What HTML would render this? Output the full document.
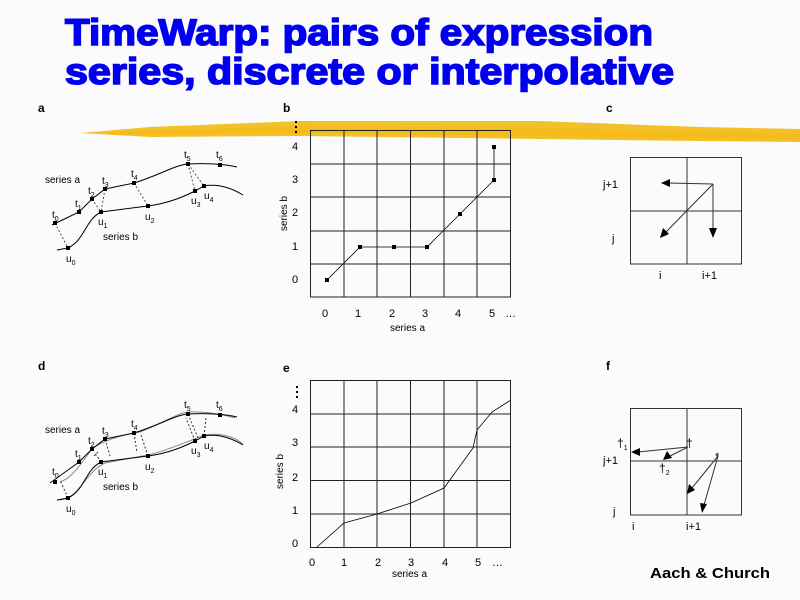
<!DOCTYPE html>
<html><head><meta charset="utf-8"><style>
html,body{margin:0;padding:0;background:#fbfbfb;}
svg{display:block;}
text{font-family:"Liberation Sans",Arial,sans-serif;}
</style></head><body>
<svg width="800" height="600" viewBox="0 0 800 600" xmlns="http://www.w3.org/2000/svg">
<rect width="800" height="600" fill="#fbfbfb"/>
<!-- brush -->
<polygon points="80,133 150,127 300,121 540,121 700,127 800,129 800,142 700,141 540,139 300,136 150,137" fill="#f2c12a"/>
<polygon points="110,132 300,126 540,128 800,134 800,139 540,136 300,133 110,135" fill="#f5b815" opacity="0.7"/>
<!-- title -->
<text x="65" y="45" font-size="37" font-weight="bold" fill="#0000ee" stroke="#0000ee" stroke-width="1.6" textLength="588" lengthAdjust="spacingAndGlyphs">TimeWarp: pairs of expression</text>
<text x="65" y="84" font-size="37" font-weight="bold" fill="#0000ee" stroke="#0000ee" stroke-width="1.6" textLength="609" lengthAdjust="spacingAndGlyphs">series, discrete or interpolative</text>
<g font-size="12" font-weight="bold" fill="#000">
<text x="38" y="112">a</text><text x="283" y="112">b</text><text x="606" y="112">c</text>
<text x="38" y="370">d</text><text x="283" y="372">e</text><text x="606" y="370">f</text>
</g>
<text x="650" y="578" font-size="15" font-weight="bold" textLength="120" lengthAdjust="spacingAndGlyphs">Aach &amp; Church</text>

<!-- panel a -->
<g fill="none" stroke="#000" stroke-width="1">
<path d="M52,225 L79,212 L92,199 L105,189 L134,183 C160,175 175,165 188,164 C205,163 225,164 237,167"/>
<path d="M57,250 L68,248 C85,240 85,220 101,212 L148,206 C170,203 185,196 195,191 L204,186 C220,183 235,190 243,195"/>
<g stroke="#555" stroke-dasharray="2,2">
<line x1="55" y1="223" x2="68" y2="248"/><line x1="92" y1="199" x2="101" y2="212"/>
<line x1="105" y1="189" x2="101" y2="212"/><line x1="134" y1="183" x2="148" y2="206"/>
<line x1="188" y1="164" x2="195" y2="191"/><line x1="188" y1="164" x2="204" y2="186"/>
</g>
</g>
<g fill="#000">
<rect x="53" y="221" width="4" height="4"/><rect x="77" y="210" width="4" height="4"/><rect x="90" y="197" width="4" height="4"/><rect x="103" y="187" width="4" height="4"/><rect x="132" y="181" width="4" height="4"/><rect x="186" y="162" width="4" height="4"/><rect x="218" y="163" width="4" height="4"/>
<rect x="66" y="246" width="4" height="4"/><rect x="99" y="210" width="4" height="4"/><rect x="146" y="204" width="4" height="4"/><rect x="193" y="189" width="4" height="4"/><rect x="202" y="184" width="4" height="4"/>
</g>
<g font-size="10" fill="#000">
<text x="45" y="183">series a</text><text x="103" y="240">series b</text>
<text x="52" y="218">t<tspan font-size="7" dy="3">0</tspan></text>
<text x="75" y="207">t<tspan font-size="7" dy="3">1</tspan></text>
<text x="88" y="194">t<tspan font-size="7" dy="3">2</tspan></text>
<text x="102" y="184">t<tspan font-size="7" dy="3">3</tspan></text>
<text x="131" y="177">t<tspan font-size="7" dy="3">4</tspan></text>
<text x="184" y="158">t<tspan font-size="7" dy="3">5</tspan></text>
<text x="216" y="158">t<tspan font-size="7" dy="3">6</tspan></text>
<text x="66" y="262">u<tspan font-size="7" dy="3">0</tspan></text>
<text x="98" y="225">u<tspan font-size="7" dy="3">1</tspan></text>
<text x="145" y="220">u<tspan font-size="7" dy="3">2</tspan></text>
<text x="191" y="204">u<tspan font-size="7" dy="3">3</tspan></text>
<text x="204" y="199">u<tspan font-size="7" dy="3">4</tspan></text>
</g>

<!-- panel d -->
<g transform="translate(0,250)">
<g fill="none" stroke="#888" stroke-width="1">
<path d="M60,232 C72,228 80,215 92,199 C100,192 120,185 140,182 C165,172 178,163 188,162 C205,161 225,165 235,168"/>
<path d="M60,250 C80,248 85,222 105,213 L148,205 C170,200 190,190 205,185 C222,182 236,188 243,194"/>
</g>
<g fill="none" stroke="#000" stroke-width="1">
<path d="M50,233 L79,212 L92,199 L105,189 L134,183 C160,175 175,165 188,164 C205,163 225,164 237,167"/>
<path d="M57,250 L68,248 C85,240 85,220 101,212 L148,206 C170,203 185,196 195,191 L204,186 C220,183 235,190 243,195"/>
<g stroke="#333" stroke-dasharray="2,2">
<line x1="68" y1="248" x2="60" y2="230"/><line x1="101" y1="212" x2="94" y2="202"/>
<line x1="105" y1="189" x2="110" y2="206"/><line x1="134" y1="183" x2="137" y2="203"/>
<line x1="148" y1="206" x2="141" y2="185"/><line x1="188" y1="164" x2="198" y2="188"/>
<line x1="195" y1="191" x2="186" y2="168"/><line x1="204" y1="186" x2="206" y2="168"/>
<line x1="98" y1="202" x2="94" y2="206"/>
</g>
</g>
<g fill="#000">
<rect x="53" y="230" width="4" height="4"/><rect x="77" y="210" width="4" height="4"/><rect x="90" y="197" width="4" height="4"/><rect x="103" y="187" width="4" height="4"/><rect x="132" y="181" width="4" height="4"/><rect x="186" y="162" width="4" height="4"/><rect x="218" y="163" width="4" height="4"/>
<rect x="66" y="246" width="4" height="4"/><rect x="99" y="210" width="4" height="4"/><rect x="146" y="204" width="4" height="4"/><rect x="193" y="189" width="4" height="4"/><rect x="202" y="184" width="4" height="4"/>
</g>
<g font-size="10" fill="#000">
<text x="45" y="183">series a</text><text x="103" y="240">series b</text>
<text x="52" y="225">t<tspan font-size="7" dy="3">0</tspan></text>
<text x="75" y="207">t<tspan font-size="7" dy="3">1</tspan></text>
<text x="88" y="194">t<tspan font-size="7" dy="3">2</tspan></text>
<text x="102" y="184">t<tspan font-size="7" dy="3">3</tspan></text>
<text x="131" y="177">t<tspan font-size="7" dy="3">4</tspan></text>
<text x="184" y="158">t<tspan font-size="7" dy="3">5</tspan></text>
<text x="216" y="158">t<tspan font-size="7" dy="3">6</tspan></text>
<text x="66" y="262">u<tspan font-size="7" dy="3">0</tspan></text>
<text x="98" y="225">u<tspan font-size="7" dy="3">1</tspan></text>
<text x="145" y="220">u<tspan font-size="7" dy="3">2</tspan></text>
<text x="191" y="204">u<tspan font-size="7" dy="3">3</tspan></text>
<text x="204" y="199">u<tspan font-size="7" dy="3">4</tspan></text>
</g>
</g>

<!-- panel b -->
<g stroke="#222" stroke-width="1" fill="none">
<rect x="310.5" y="130.5" width="200" height="166.5"/>
<path d="M344,131V297M377,131V297M410.5,131V297M444,131V297M477,131V297M311,164H511M311,197H511M311,231H511M311,264H511"/>
</g>
<polyline points="327,280 360,247 394,247 427,247 460,214 494,180 494,147" fill="none" stroke="#000" stroke-width="0.8"/>
<g fill="#000">
<rect x="325" y="278" width="4" height="4"/><rect x="358" y="245" width="4" height="4"/><rect x="392" y="245" width="4" height="4"/><rect x="425" y="245" width="4" height="4"/><rect x="458" y="212" width="4" height="4"/><rect x="492" y="178" width="4" height="4"/><rect x="492" y="145" width="4" height="4"/>
<rect x="295" y="121" width="2" height="2"/><rect x="295" y="126" width="2" height="2"/><rect x="295" y="131" width="2" height="2"/>
</g>
<g font-size="11" fill="#000">
<text x="292" y="150">4</text><text x="292" y="183">3</text><text x="292" y="216">2</text><text x="292" y="250">1</text><text x="292" y="283">0</text>
<text x="322" y="317">0</text><text x="355" y="317">1</text><text x="389" y="317">2</text><text x="422" y="317">3</text><text x="455" y="317">4</text><text x="489" y="317">5</text><text x="505" y="317">…</text>
<text x="390" y="331" font-size="10">series a</text>
<text transform="translate(287,231) rotate(-90)" font-size="10">series b</text>
</g>

<!-- panel e -->
<g stroke="#222" stroke-width="1" fill="none">
<rect x="310.5" y="380.5" width="200" height="167"/>
<path d="M344,381V547M377,381V547M410.5,381V547M444,381V547M477,381V547M311,414H511M311,447H511M311,480.5H511M311,514H511"/>
</g>
<polyline points="317,547 344,523 377,514 411,503 444,488 473,448 477,430 492,412 511,400" fill="none" stroke="#000" stroke-width="0.8"/>
<g fill="#000"><rect x="296" y="386" width="2" height="2"/><rect x="296" y="391" width="2" height="2"/><rect x="296" y="396" width="2" height="2"/></g>
<g font-size="11" fill="#000">
<text x="292" y="413">4</text><text x="292" y="446">3</text><text x="292" y="481">2</text><text x="292" y="514">1</text><text x="292" y="547">0</text>
<text x="309" y="566">0</text><text x="341" y="566">1</text><text x="375" y="566">2</text><text x="408" y="566">3</text><text x="442" y="566">4</text><text x="475" y="566">5</text><text x="492" y="566">…</text>
<text x="392" y="577" font-size="10">series a</text>
<text transform="translate(283,489) rotate(-90)" font-size="10">series b</text>
</g>

<!-- panel c -->
<g stroke="#333" fill="none">
<rect x="630.5" y="157.5" width="111" height="106.5"/>
<line x1="687" y1="157" x2="687" y2="264"/><line x1="631" y1="211" x2="742" y2="211"/>
</g>
<g stroke="#333" stroke-width="1">
<line x1="713" y1="184" x2="668" y2="183"/><line x1="713" y1="184" x2="713" y2="230"/><line x1="713" y1="184" x2="665" y2="233"/>
</g>
<g fill="#000">
<polygon points="661,183 670,179 670,187"/><polygon points="713,238 709,228 717,228"/><polygon points="660,238 663,228 669,234"/>
</g>
<g font-size="11" fill="#000">
<text x="603" y="188">j+1</text><text x="612" y="242">j</text><text x="659" y="279">i</text><text x="702" y="279">i+1</text>
</g>

<!-- panel f -->
<g stroke="#333" fill="none">
<rect x="630.5" y="408.5" width="111" height="106.5"/>
<line x1="687" y1="408" x2="687" y2="515"/><line x1="631" y1="461" x2="742" y2="461"/>
</g>
<g stroke="#333" stroke-width="1">
<line x1="688" y1="447" x2="638" y2="452"/><line x1="688" y1="447" x2="670" y2="456"/>
<line x1="718" y1="456" x2="692" y2="488"/><line x1="718" y1="456" x2="704" y2="505"/>
</g>
<g fill="#000">
<polygon points="631,452 640,448 640,456"/><polygon points="663,460 667,451 672,458"/>
<polygon points="687,494 689,484 695,490"/><polygon points="702,513 700,503 707,504"/>
</g>
<g font-size="12" fill="#000">
<text x="686" y="447">†</text><text x="715" y="460" font-size="11">*</text>
<text x="617" y="447">†<tspan font-size="7" dy="3">1</tspan></text>
<text x="603" y="464" font-size="11">j+1</text>
<text x="659" y="472">†<tspan font-size="7" dy="3">2</tspan></text>
<text x="613" y="515" font-size="11">j</text><text x="632" y="530" font-size="11">i</text><text x="686" y="530" font-size="11">i+1</text>
</g>
</svg>
</body></html>
